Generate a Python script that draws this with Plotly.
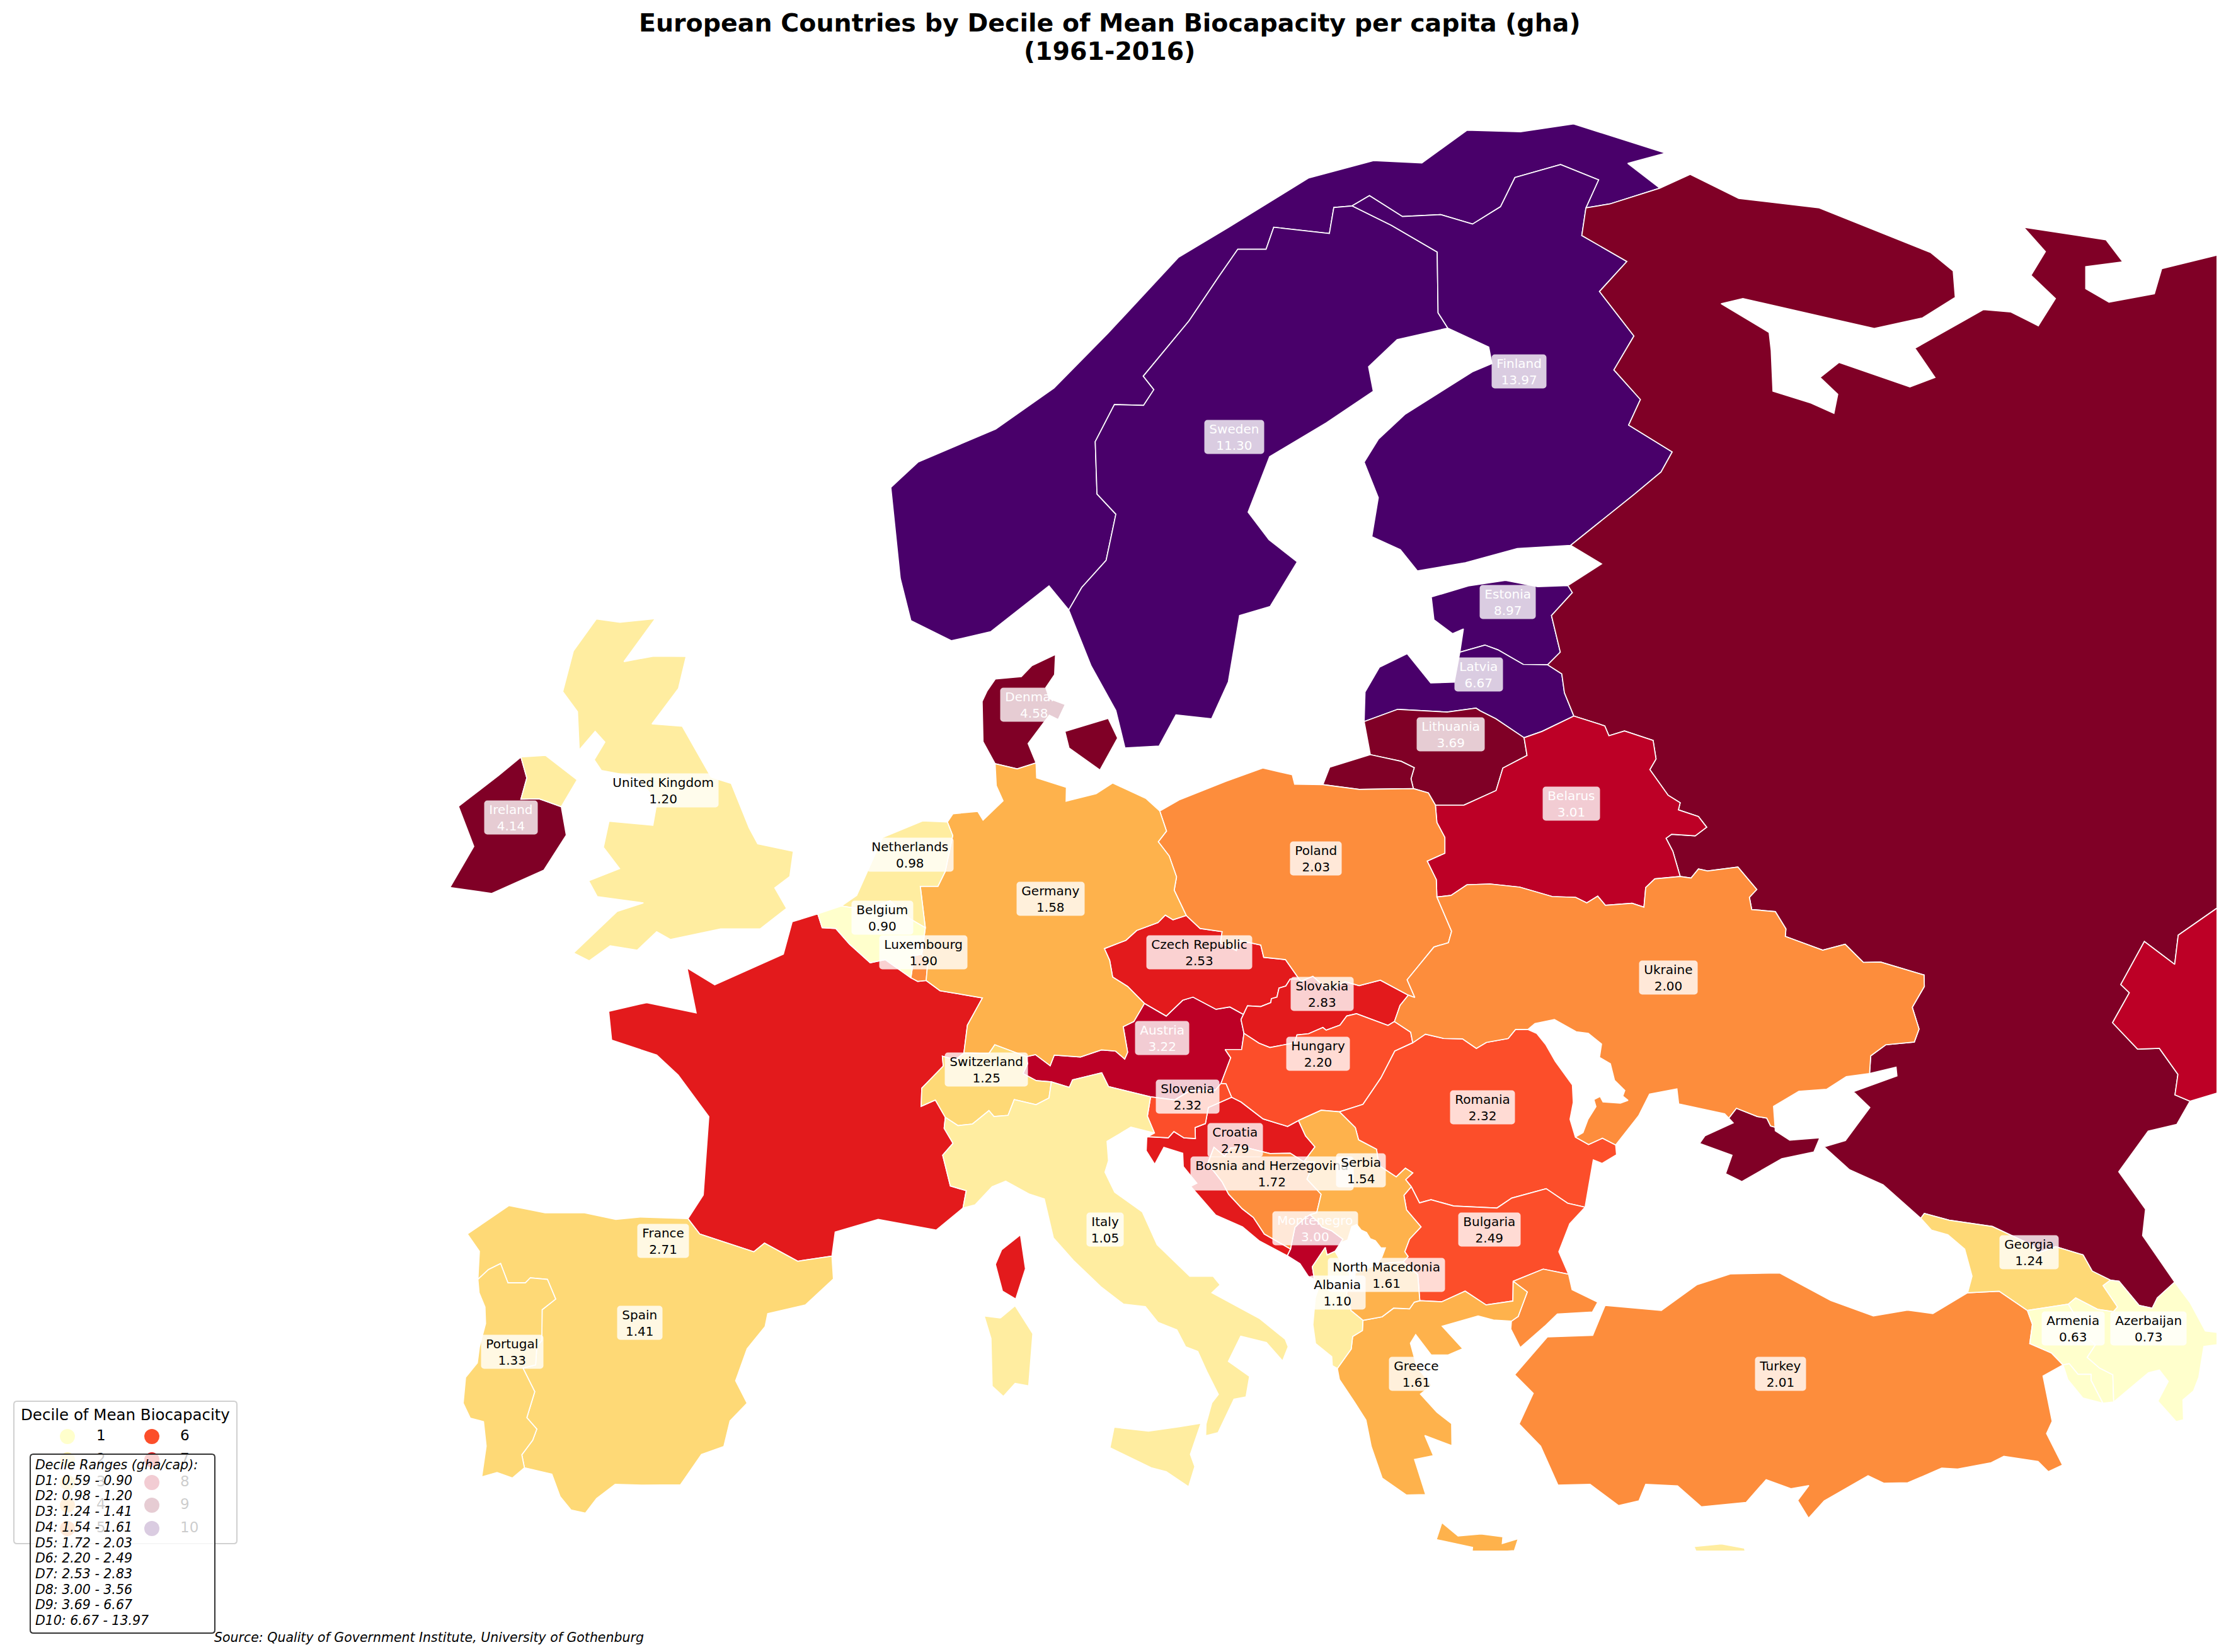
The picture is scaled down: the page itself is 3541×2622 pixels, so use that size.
import plotly.graph_objects as go

# Country outlines as (lon, lat)
norway = [(28.17,71.19),(31.29,70.45),(30.01,70.19),(31.10,69.56),(29.40,69.16),(28.59,69.06),(29.02,69.77),(27.73,70.16),(26.18,69.83),(25.69,69.09),(24.74,68.65),(23.66,68.89),(22.36,68.84),(21.24,69.37),(20.65,69.11),(20.03,69.07),(19.88,68.41),(17.99,68.57),(17.73,68.01),(16.77,68.01),(16.11,67.30),(15.11,66.19),(13.56,64.79),(13.92,64.45),(13.57,64.05),(12.58,64.07),(11.93,63.13),(11.99,61.80),(12.63,61.29),(12.30,60.12),(11.47,59.43),(11.03,58.86),(10.36,59.47),(8.38,58.31),(7.05,58.08),(5.67,58.59),(5.31,59.66),(4.99,61.97),(5.91,62.61),(8.55,63.45),(10.53,64.49),(12.36,65.88),(14.76,67.81),(16.44,68.56),(19.18,69.82),(21.38,70.26),(23.02,70.20),(24.55,71.03),(26.37,70.99)]
sweden = [(11.03,58.86),(11.47,59.43),(12.30,60.12),(12.63,61.29),(11.99,61.80),(11.93,63.13),(12.58,64.07),(13.57,64.05),(13.92,64.45),(13.56,64.79),(15.11,66.19),(16.11,67.30),(16.77,68.01),(17.73,68.01),(17.99,68.57),(19.88,68.41),(20.03,69.07),(20.65,69.11),(21.98,68.62),(23.54,67.94),(23.57,66.40),(23.90,66.01),(22.18,65.72),(21.21,65.03),(21.37,64.41),(19.78,63.61),(17.85,62.75),(17.12,61.34),(17.83,60.64),(18.79,60.08),(17.87,58.95),(16.83,58.72),(16.45,57.04),(15.88,56.10),(14.67,56.20),(14.10,55.41),(12.94,55.36),(12.63,56.31),(11.79,57.44)]
finland = [(28.59,69.06),(28.45,68.36),(29.98,67.70),(29.05,66.94),(30.22,65.81),(29.54,64.95),(30.44,64.20),(30.04,63.55),(31.52,62.87),(31.14,62.36),(30.21,61.78),(28.07,60.50),(26.26,60.42),(24.50,60.06),(22.87,59.85),(22.29,60.39),(21.32,60.72),(21.54,61.71),(21.06,62.61),(21.54,63.19),(22.44,63.82),(24.73,64.90),(25.40,65.11),(25.29,65.53),(23.90,66.01),(23.57,66.40),(23.54,67.94),(21.98,68.62),(20.65,69.11),(21.24,69.37),(22.36,68.84),(23.66,68.89),(24.74,68.65),(25.69,69.09),(26.18,69.83),(27.73,70.16),(29.02,69.77)]
jutland = [(10.91,56.46),(10.67,56.08),(10.37,56.19),(9.65,55.47),(9.92,54.98),(9.28,54.83),(8.53,54.96),(8.12,55.52),(8.09,56.54),(8.26,56.81),(8.54,57.11),(9.42,57.17),(9.78,57.45),(10.58,57.73),(10.55,57.22),(10.25,56.89),(10.37,56.61)]
zealand = [(12.69,55.61),(12.09,54.80),(11.04,55.36),(10.90,55.78),(12.37,56.11)]
germany = [(14.12,53.76),(14.35,53.25),(14.07,52.98),(14.44,52.62),(14.69,52.09),(14.61,51.75),(15.02,51.11),(14.57,51.00),(14.31,51.12),(14.06,50.93),(13.34,50.73),(12.97,50.48),(12.24,50.27),(12.42,49.97),(12.52,49.55),(13.03,49.31),(13.60,48.88),(13.24,48.42),(12.88,48.29),(13.03,47.64),(12.93,47.47),(12.62,47.67),(12.14,47.70),(11.43,47.52),(10.54,47.57),(10.40,47.30),(9.90,47.58),(9.59,47.53),(8.52,47.83),(8.32,47.61),(7.47,47.62),(7.59,48.33),(8.10,49.02),(6.66,49.20),(6.19,49.46),(6.24,49.90),(6.04,50.13),(6.16,50.80),(5.99,51.85),(6.59,51.85),(6.84,52.23),(7.09,53.14),(6.91,53.48),(7.10,53.69),(7.94,53.75),(8.12,53.53),(8.80,54.02),(8.57,54.40),(8.53,54.96),(9.28,54.83),(9.92,54.98),(9.94,54.60),(10.95,54.36),(10.94,54.01),(11.96,54.20),(12.52,54.47),(13.65,54.08)]
poland = [(23.48,53.91),(23.53,53.47),(23.80,53.09),(23.80,52.69),(23.20,52.49),(23.51,52.02),(23.53,51.58),(24.03,50.71),(23.92,50.42),(23.43,50.31),(22.52,49.48),(22.78,49.03),(22.56,49.09),(21.61,49.47),(20.89,49.33),(20.42,49.43),(19.83,49.22),(19.32,49.57),(18.91,49.44),(18.85,49.50),(18.39,49.99),(17.65,50.05),(17.55,50.36),(16.87,50.47),(16.72,50.22),(16.18,50.42),(16.24,50.70),(15.49,50.78),(15.02,51.11),(14.61,51.75),(14.69,52.09),(14.44,52.62),(14.07,52.98),(14.35,53.25),(14.12,53.76),(14.80,54.05),(16.36,54.51),(17.62,54.85),(18.62,54.68),(18.70,54.44),(19.66,54.43),(20.89,54.31),(22.73,54.33),(23.24,54.22)]
czech = [(15.02,51.11),(15.49,50.78),(16.24,50.70),(16.18,50.42),(16.72,50.22),(16.87,50.47),(17.55,50.36),(17.65,50.05),(18.39,49.99),(18.85,49.50),(18.55,49.50),(18.40,49.32),(18.17,49.27),(18.10,49.04),(17.91,49.00),(17.89,48.90),(17.55,48.80),(17.10,48.82),(16.96,48.60),(16.50,48.79),(16.03,48.73),(15.25,49.04),(14.90,48.96),(14.34,48.56),(13.60,48.88),(13.03,49.31),(12.52,49.55),(12.42,49.97),(12.24,50.27),(12.97,50.48),(13.34,50.73),(14.06,50.93),(14.31,51.12),(14.57,51.00)]
slovakia = [(18.85,49.50),(18.91,49.44),(19.32,49.57),(19.83,49.22),(20.42,49.43),(20.89,49.33),(21.61,49.47),(22.56,49.09),(22.28,48.83),(22.09,48.42),(21.87,48.32),(20.80,48.62),(20.47,48.56),(20.24,48.33),(19.77,48.20),(19.66,48.27),(19.17,48.11),(18.78,48.08),(18.70,47.88),(17.86,47.76),(17.49,47.87),(16.98,48.12),(16.88,48.47),(16.96,48.60),(17.10,48.82),(17.55,48.80),(17.89,48.90),(17.91,49.00),(18.10,49.04),(18.17,49.27),(18.40,49.32),(18.55,49.50)]
austria = [(16.98,48.12),(16.90,47.71),(16.34,47.71),(16.53,47.50),(16.20,46.85),(16.01,46.68),(15.14,46.66),(14.63,46.43),(13.81,46.51),(12.38,46.77),(12.15,47.12),(11.16,46.94),(11.05,46.75),(10.44,46.89),(9.93,46.92),(9.48,47.10),(9.63,47.35),(9.59,47.53),(9.90,47.58),(10.40,47.30),(10.54,47.57),(11.43,47.52),(12.14,47.70),(12.62,47.67),(12.93,47.47),(13.03,47.64),(12.88,48.29),(13.24,48.42),(13.60,48.88),(14.34,48.56),(14.90,48.96),(15.25,49.04),(16.03,48.73),(16.50,48.79),(16.96,48.60),(16.88,48.47)]
hungary = [(22.09,48.42),(22.64,48.15),(22.71,47.88),(22.10,47.67),(21.63,46.99),(21.02,46.32),(20.22,46.13),(19.60,46.17),(18.83,45.91),(18.46,45.76),(17.63,45.95),(16.88,46.38),(16.56,46.50),(16.37,46.84),(16.20,46.85),(16.53,47.50),(16.34,47.71),(16.90,47.71),(16.98,48.12),(17.49,47.87),(17.86,47.76),(18.70,47.88),(18.78,48.08),(19.17,48.11),(19.66,48.27),(19.77,48.20),(20.24,48.33),(20.47,48.56),(20.80,48.62),(21.87,48.32)]
slovenia = [(13.81,46.51),(14.63,46.43),(15.14,46.66),(16.01,46.68),(16.20,46.85),(16.37,46.84),(16.56,46.50),(15.77,46.24),(15.67,45.83),(15.32,45.73),(15.33,45.45),(14.94,45.47),(14.60,45.63),(14.41,45.47),(13.72,45.50),(13.94,45.59),(13.70,46.02)]
croatia = [(18.83,45.91),(19.07,45.52),(19.39,45.24),(19.01,44.86),(18.55,45.08),(17.86,45.07),(17.00,45.23),(16.53,45.21),(16.32,45.00),(15.96,45.23),(15.75,44.82),(16.24,44.35),(16.46,44.04),(16.92,43.67),(17.30,43.45),(17.67,43.03),(18.56,42.65),(18.45,42.48),(17.51,42.85),(16.93,43.21),(16.02,43.51),(15.17,44.24),(15.38,44.32),(14.92,44.74),(14.90,45.08),(14.26,45.23),(13.95,44.80),(13.66,45.14),(13.68,45.48),(13.72,45.50),(14.41,45.47),(14.60,45.63),(14.94,45.47),(15.33,45.45),(15.32,45.73),(15.67,45.83),(15.77,46.24),(16.56,46.50),(16.88,46.38),(17.63,45.95),(18.46,45.76)]
bosnia = [(19.01,44.86),(19.37,44.86),(19.12,44.42),(19.60,44.04),(19.45,43.57),(19.22,43.52),(19.03,43.43),(18.71,43.20),(18.56,42.65),(17.67,43.03),(17.30,43.45),(16.92,43.67),(16.46,44.04),(16.24,44.35),(15.75,44.82),(15.96,45.23),(16.32,45.00),(16.53,45.21),(17.00,45.23),(17.86,45.07),(18.55,45.08)]
serbia = [(18.83,45.91),(19.60,46.17),(20.22,46.13),(20.76,45.73),(20.87,45.42),(21.48,45.18),(21.56,44.77),(22.15,44.48),(22.46,44.70),(22.71,44.58),(22.47,44.41),(22.66,44.23),(22.41,44.01),(22.50,43.64),(22.99,43.21),(22.60,42.90),(22.44,42.58),(22.55,42.46),(22.38,42.32),(21.92,42.30),(21.58,42.25),(21.54,42.32),(21.66,42.44),(21.78,42.68),(21.63,42.68),(21.44,42.86),(21.27,42.91),(21.14,43.07),(20.96,43.13),(20.81,43.27),(20.64,43.22),(20.50,42.88),(20.26,42.81),(20.34,42.90),(19.96,43.11),(19.63,43.21),(19.48,43.35),(19.22,43.52),(19.45,43.57),(19.60,44.04),(19.12,44.42),(19.37,44.86),(19.01,44.86),(19.39,45.24),(19.07,45.52)]
montenegro = [(20.07,42.59),(19.80,42.50),(19.74,42.69),(19.30,42.20),(19.37,41.88),(19.16,41.96),(18.88,42.28),(18.45,42.48),(18.56,42.65),(18.71,43.20),(19.03,43.43),(19.22,43.52),(19.48,43.35),(19.63,43.21),(19.96,43.11),(20.34,42.90),(20.26,42.81)]
albania = [(21.02,40.84),(21.00,40.58),(20.67,40.43),(20.62,40.11),(20.15,39.62),(19.98,39.69),(19.96,39.92),(19.41,40.25),(19.32,40.73),(19.40,41.41),(19.54,41.72),(19.37,41.88),(19.30,42.20),(19.74,42.69),(19.80,42.50),(20.07,42.59),(20.28,42.32),(20.52,42.22),(20.59,41.86),(20.46,41.52),(20.61,41.09)]
macedonia = [(22.38,42.32),(22.88,42.00),(22.95,41.34),(22.76,41.30),(22.60,41.13),(22.06,41.15),(21.67,40.93),(21.02,40.84),(20.61,41.09),(20.46,41.52),(20.59,41.86),(20.72,41.85),(20.76,42.05),(21.35,42.21),(21.58,42.25),(21.92,42.30)]
greece = [(26.60,41.56),(26.29,40.94),(26.06,40.82),(25.45,40.85),(24.93,40.95),(23.71,40.69),(24.41,40.12),(23.90,39.96),(23.34,39.96),(22.81,40.48),(22.63,40.26),(22.85,39.66),(23.35,39.19),(22.97,38.97),(23.53,38.51),(24.03,38.22),(24.04,37.66),(23.12,37.92),(23.41,37.41),(22.77,37.31),(23.15,36.42),(22.49,36.41),(21.67,36.84),(21.30,37.64),(21.12,38.31),(20.73,38.77),(20.22,39.34),(20.15,39.62),(20.62,40.11),(20.67,40.43),(21.00,40.58),(21.02,40.84),(21.67,40.93),(22.06,41.15),(22.60,41.13),(22.76,41.30),(22.95,41.34),(23.69,41.31),(24.49,41.58),(25.20,41.23),(26.11,41.33),(26.12,41.83)]
crete = [(23.70,35.71),(24.25,35.37),(25.03,35.42),(25.77,35.35),(25.75,35.18),(26.29,35.30),(26.16,35.00),(24.72,34.92),(24.74,35.08),(23.51,35.28)]
bulgaria = [(22.66,44.23),(22.94,43.82),(23.33,43.90),(24.10,43.74),(25.57,43.69),(26.07,43.94),(27.24,44.18),(27.97,43.81),(28.56,43.71),(28.04,43.29),(27.67,42.58),(28.00,42.01),(27.14,42.14),(26.12,41.83),(26.11,41.33),(25.20,41.23),(24.49,41.58),(23.69,41.31),(22.95,41.34),(22.88,42.00),(22.38,42.32),(22.55,42.46),(22.44,42.58),(22.60,42.90),(22.99,43.21),(22.50,43.64),(22.41,44.01)]
romania = [(22.71,47.88),(23.14,48.10),(23.76,47.99),(24.40,47.98),(24.87,47.74),(25.21,47.89),(25.95,47.99),(26.20,48.22),(26.62,48.22),(26.92,48.12),(27.23,47.83),(27.55,47.41),(28.13,46.81),(28.16,46.37),(28.05,45.94),(28.23,45.49),(28.68,45.30),(29.15,45.46),(29.60,45.29),(29.63,45.04),(29.14,44.82),(28.84,44.91),(28.56,43.71),(27.97,43.81),(27.24,44.18),(26.07,43.94),(25.57,43.69),(24.10,43.74),(23.33,43.90),(22.94,43.82),(22.66,44.23),(22.47,44.41),(22.71,44.58),(22.46,44.70),(22.15,44.48),(21.56,44.77),(21.48,45.18),(20.87,45.42),(20.76,45.73),(20.22,46.13),(21.02,46.32),(21.63,46.99),(22.10,47.67)]
ukraine = [(31.79,52.10),(32.16,52.06),(32.41,52.29),(32.72,52.24),(33.75,52.34),(34.39,51.77),(34.14,51.57),(34.22,51.26),(35.02,51.21),(35.38,50.77),(35.36,50.58),(36.63,50.23),(37.39,50.38),(38.01,49.92),(38.59,49.93),(40.07,49.60),(40.08,49.31),(39.67,48.78),(39.90,48.23),(39.74,47.90),(38.77,47.83),(38.26,47.55),(38.22,47.10),(37.43,47.02),(36.76,46.70),(35.82,46.65),(34.96,46.27),(35.01,45.74),(34.86,45.77),(34.73,45.97),(34.41,46.01),(33.70,46.22),(33.44,45.97),(33.30,46.08),(31.74,46.33),(31.68,46.71),(30.75,46.58),(30.38,46.03),(29.60,45.29),(29.15,45.46),(28.68,45.30),(28.23,45.49),(28.49,45.60),(28.66,45.94),(28.93,46.26),(28.86,46.44),(29.07,46.52),(29.17,46.38),(29.76,46.35),(30.02,46.42),(29.84,46.53),(29.91,46.67),(29.56,46.93),(29.42,47.35),(29.05,47.51),(29.12,47.85),(28.67,48.12),(28.26,48.16),(27.52,48.47),(26.86,48.37),(26.62,48.22),(26.20,48.22),(25.95,47.99),(25.21,47.89),(24.87,47.74),(24.40,47.98),(23.76,47.99),(23.14,48.10),(22.71,47.88),(22.64,48.15),(22.09,48.42),(22.28,48.83),(22.56,49.09),(22.78,49.03),(22.52,49.48),(23.43,50.31),(23.92,50.42),(24.03,50.71),(23.53,51.58),(24.01,51.62),(24.55,51.89),(25.33,51.91),(26.34,51.83),(27.45,51.59),(28.24,51.57),(28.62,51.43),(28.99,51.60),(29.25,51.37),(30.16,51.42),(30.56,51.32),(30.62,51.82),(30.93,52.04)]
belarus = [(28.18,56.17),(29.23,55.92),(29.37,55.67),(29.90,55.79),(30.87,55.55),(30.97,55.08),(30.76,54.81),(31.38,54.16),(31.79,53.97),(31.73,53.79),(32.41,53.62),(32.69,53.35),(32.30,53.13),(31.50,53.17),(31.31,53.07),(31.54,52.74),(31.79,52.10),(30.93,52.04),(30.62,51.82),(30.56,51.32),(30.16,51.42),(29.25,51.37),(28.99,51.60),(28.62,51.43),(28.24,51.57),(27.45,51.59),(26.34,51.83),(25.33,51.91),(24.55,51.89),(24.01,51.62),(23.53,51.58),(23.51,52.02),(23.20,52.49),(23.80,52.69),(23.80,53.09),(23.53,53.47),(23.48,53.91),(24.45,53.91),(25.54,54.28),(25.77,54.85),(26.59,55.17),(26.49,55.62),(27.10,55.78)]
lithuania = [(26.49,55.62),(26.59,55.17),(25.77,54.85),(25.54,54.28),(24.45,53.91),(23.48,53.91),(23.24,54.22),(22.73,54.33),(22.65,54.58),(22.76,54.86),(22.32,55.02),(21.27,55.19),(21.06,56.03),(22.20,56.34),(23.88,56.27),(24.86,56.37),(25.00,56.30),(25.53,56.10)]
latvia = [(27.29,57.47),(27.77,57.24),(27.86,56.76),(28.18,56.17),(27.10,55.78),(26.49,55.62),(25.53,56.10),(25.00,56.30),(24.86,56.37),(23.88,56.27),(22.20,56.34),(21.06,56.03),(21.09,56.78),(21.58,57.41),(22.52,57.75),(23.32,57.01),(24.12,57.03),(24.31,57.79),(25.16,57.97),(25.60,57.85),(26.46,57.48)]
estonia = [(27.98,59.48),(26.95,59.45),(25.86,59.61),(24.60,59.47),(23.34,59.19),(23.43,58.61),(24.06,58.26),(24.43,58.38),(24.31,57.79),(25.16,57.97),(25.60,57.85),(26.46,57.48),(27.29,57.47),(27.72,57.79),(27.42,58.72),(28.13,59.30)]
russia = [(39.96,43.43),(38.68,44.28),(37.54,44.66),(36.68,45.24),(37.40,45.40),(38.23,46.24),(37.67,46.64),(39.15,47.04),(39.12,47.26),(38.22,47.10),(38.26,47.55),(38.77,47.83),(39.74,47.90),(39.90,48.23),(39.67,48.78),(40.08,49.31),(40.07,49.60),(38.59,49.93),(38.01,49.92),(37.39,50.38),(36.63,50.23),(35.36,50.58),(35.38,50.77),(35.02,51.21),(34.22,51.26),(34.14,51.57),(34.39,51.77),(33.75,52.34),(32.72,52.24),(32.41,52.29),(32.16,52.06),(31.79,52.10),(31.54,52.74),(31.31,53.07),(31.50,53.17),(32.30,53.13),(32.69,53.35),(32.41,53.62),(31.73,53.79),(31.79,53.97),(31.38,54.16),(30.76,54.81),(30.97,55.08),(30.87,55.55),(29.90,55.79),(29.37,55.67),(29.23,55.92),(28.18,56.17),(27.86,56.76),(27.77,57.24),(27.29,57.47),(27.72,57.79),(27.42,58.72),(28.13,59.30),(27.98,59.48),(29.12,60.03),(28.07,60.50),(30.21,61.78),(31.14,62.36),(31.52,62.87),(30.04,63.55),(30.44,64.20),(29.54,64.95),(30.22,65.81),(29.05,66.94),(29.98,67.70),(28.45,68.36),(28.59,69.06),(29.40,69.16),(31.10,69.56),(32.13,69.91),(33.78,69.30),(36.51,69.06),(40.29,67.93),(41.06,67.46),(41.13,66.79),(40.02,66.27),(38.38,66.00),(33.92,66.76),(33.18,66.63),(34.81,65.90),(34.88,65.44),(34.94,64.41),(36.23,64.11),(37.01,63.85),(37.14,64.33),(36.54,64.76),(37.18,65.14),(39.59,64.52),(40.44,64.76),(39.76,65.50),(42.09,66.48),(43.02,66.42),(43.95,66.07),(44.53,66.76),(43.70,67.35),(44.19,67.95),(43.45,68.57),(46.25,68.25),(46.82,67.69),(45.56,67.57),(45.56,67.01),(46.35,66.67),(47.89,66.88),(48.14,67.52),(50.23,67.90),(53.72,68.86),(56.00,68.86),(56.00,51.00),(50.77,51.69),(48.70,50.61),(48.58,49.87),(47.55,50.45),(46.75,49.36),(47.04,49.15),(46.47,48.39),(47.32,47.72),(48.06,47.74),(48.69,47.08),(48.59,46.56),(49.10,46.40),(48.65,45.81),(47.68,45.64),(46.68,44.61),(47.59,43.66),(47.49,42.99),(48.58,41.81),(47.99,41.41),(47.82,41.15),(47.37,41.22),(46.69,41.83),(46.40,41.86),(45.78,42.09),(45.47,42.50),(44.54,42.71),(43.93,42.55),(43.76,42.74),(42.39,43.22),(40.92,43.38),(40.08,43.55)]
kaliningrad = [(22.73,54.33),(20.89,54.31),(19.66,54.43),(19.89,54.87),(21.27,55.19),(22.32,55.02),(22.76,54.86),(22.65,54.58)]
crimea = [(33.44,45.97),(33.70,46.22),(34.41,46.01),(34.73,45.97),(34.86,45.77),(35.01,45.74),(35.02,45.65),(35.51,45.41),(36.53,45.47),(36.33,45.11),(35.24,44.94),(33.88,44.36),(33.33,44.56),(33.55,45.03),(32.45,45.33),(32.63,45.52),(33.59,45.85)]
kazakhstan = [(46.47,48.39),(47.04,49.15),(46.75,49.36),(47.55,50.45),(48.58,49.87),(48.70,50.61),(50.77,51.69),(56.00,51.00),(56.00,46.80),(53.04,46.85),(51.19,47.05),(50.03,46.61),(49.10,46.40),(48.59,46.56),(48.69,47.08),(48.06,47.74),(47.32,47.72)]
azerbaijan = [(46.40,41.86),(46.69,41.83),(47.37,41.22),(47.82,41.15),(47.99,41.41),(48.58,41.81),(49.11,41.28),(49.62,40.57),(50.08,40.53),(50.39,40.26),(49.57,40.18),(49.40,39.40),(49.22,39.05),(48.86,38.82),(48.88,38.32),(48.63,38.27),(48.01,38.79),(48.36,39.29),(48.06,39.58),(47.69,39.51),(46.51,38.77),(46.48,39.46),(46.03,39.63),(45.61,39.90),(45.89,40.22),(45.36,40.56),(45.56,40.81),(45.18,40.99),(44.97,41.25),(45.22,41.41),(45.96,41.12),(46.50,41.06),(46.64,41.18),(46.15,41.72)]
nakhchivan = [(45.00,39.74),(45.30,39.47),(45.74,39.47),(45.74,39.32),(46.14,38.74),(45.46,38.87),(44.95,39.34),(44.79,39.71)]
armenia = [(43.58,41.09),(44.97,41.25),(45.18,40.99),(45.56,40.81),(45.36,40.56),(45.89,40.22),(45.61,39.90),(46.03,39.63),(46.48,39.46),(46.51,38.77),(46.14,38.74),(45.74,39.32),(45.74,39.47),(45.30,39.47),(45.00,39.74),(44.79,39.71),(44.40,40.01),(43.66,40.25),(43.75,40.74)]
georgia = [(39.96,43.43),(40.08,43.55),(40.92,43.38),(42.39,43.22),(43.76,42.74),(43.93,42.55),(44.54,42.71),(45.47,42.50),(45.78,42.09),(46.40,41.86),(46.15,41.72),(46.64,41.18),(46.50,41.06),(45.96,41.12),(45.22,41.41),(44.97,41.25),(43.58,41.09),(42.62,41.58),(41.55,41.54),(41.70,41.96),(41.45,42.65),(40.88,43.01),(40.32,43.13)]
turkey = [(36.91,41.34),(38.35,40.95),(39.51,41.10),(40.37,41.01),(41.55,41.54),(42.62,41.58),(43.58,41.09),(43.75,40.74),(43.66,40.25),(44.40,40.01),(44.79,39.71),(44.11,39.43),(44.42,38.28),(44.23,37.97),(44.77,37.17),(44.29,37.00),(43.94,37.26),(42.78,37.39),(42.35,37.23),(41.21,37.07),(40.67,37.09),(39.52,36.72),(38.70,36.71),(38.17,36.90),(36.68,36.26),(36.42,36.04),(36.15,35.82),(35.78,36.27),(36.16,36.65),(35.55,36.57),(34.71,36.80),(34.03,36.22),(32.51,36.11),(31.70,36.64),(30.62,36.68),(30.39,36.26),(29.70,36.14),(28.73,36.68),(27.64,36.66),(27.05,37.65),(26.32,38.21),(26.80,38.99),(26.17,39.46),(27.28,40.42),(28.82,40.46),(29.24,41.22),(31.15,41.09),(32.35,41.74),(33.51,42.02),(35.17,42.04)]
thrace = [(26.12,41.83),(27.14,42.14),(28.00,42.01),(28.12,41.62),(28.99,41.30),(28.81,41.05),(27.62,41.00),(27.19,40.69),(26.36,40.15),(26.04,40.62),(26.06,40.82),(26.29,40.94),(26.60,41.56)]
france = [(3.59,50.38),(4.29,49.91),(4.80,49.99),(5.67,49.53),(5.90,49.44),(6.19,49.46),(6.66,49.20),(8.10,49.02),(7.59,48.33),(7.47,47.62),(7.19,47.45),(6.74,47.54),(6.77,47.29),(6.04,46.73),(6.02,46.27),(6.50,46.43),(6.84,45.99),(6.80,45.71),(7.10,45.33),(6.75,45.03),(7.01,44.25),(7.55,44.13),(7.44,43.69),(6.53,43.13),(4.56,43.40),(3.10,43.08),(2.99,42.47),(1.83,42.34),(0.70,42.80),(0.34,42.58),(-1.50,43.03),(-1.90,43.42),(-1.38,44.02),(-1.19,46.01),(-2.23,47.06),(-2.96,47.57),(-4.49,47.95),(-4.59,48.68),(-3.30,48.90),(-1.62,48.64),(-1.93,49.78),(-0.99,49.35),(1.34,50.13),(1.64,50.95),(2.51,51.15),(2.66,50.80),(3.12,50.78)]
corsica = [(9.56,42.15),(9.23,41.38),(8.78,41.58),(8.54,42.26),(8.75,42.63),(9.39,43.01)]
spain = [(-7.45,37.10),(-7.54,37.43),(-7.17,37.80),(-7.03,38.08),(-7.37,38.37),(-7.10,39.03),(-7.50,39.63),(-7.07,39.71),(-7.03,40.18),(-6.86,40.33),(-6.85,41.11),(-6.39,41.38),(-6.67,41.88),(-7.25,41.92),(-7.42,41.79),(-8.01,41.79),(-8.26,42.28),(-8.67,42.13),(-9.03,41.88),(-8.98,42.59),(-9.39,43.03),(-7.98,43.75),(-6.75,43.57),(-5.41,43.57),(-4.35,43.40),(-3.52,43.46),(-1.90,43.42),(-1.50,43.03),(0.34,42.58),(0.70,42.80),(1.83,42.34),(2.99,42.47),(3.04,41.89),(2.09,41.23),(0.81,41.01),(0.72,40.68),(0.11,40.12),(-0.28,39.31),(0.11,38.74),(-0.47,38.29),(-0.68,37.64),(-1.44,37.44),(-2.15,36.67),(-3.42,36.66),(-4.37,36.68),(-5.00,36.32),(-5.38,35.95),(-5.87,36.03),(-6.24,36.37),(-6.52,36.94)]
portugal = [(-9.03,41.88),(-8.67,42.13),(-8.26,42.28),(-8.01,41.79),(-7.42,41.79),(-7.25,41.92),(-6.67,41.88),(-6.39,41.38),(-6.85,41.11),(-6.86,40.33),(-7.03,40.18),(-7.07,39.71),(-7.50,39.63),(-7.10,39.03),(-7.37,38.37),(-7.03,38.08),(-7.17,37.80),(-7.54,37.43),(-7.45,37.10),(-7.86,36.84),(-8.38,36.98),(-8.90,36.87),(-8.75,37.65),(-8.84,38.27),(-9.29,38.36),(-9.53,38.74),(-9.45,39.39),(-9.05,39.76),(-8.98,40.16),(-8.77,40.76),(-8.79,41.18),(-8.99,41.54)]
italy = [(10.44,46.89),(11.05,46.75),(11.16,46.94),(12.15,47.12),(12.38,46.77),(13.81,46.51),(13.70,46.02),(13.94,45.59),(13.14,45.74),(12.33,45.38),(12.38,44.89),(12.26,44.60),(12.59,44.09),(13.53,43.59),(14.03,42.76),(15.14,41.96),(15.93,41.96),(16.17,41.74),(15.89,41.54),(16.79,41.18),(17.52,40.88),(18.38,40.36),(18.48,40.17),(18.29,39.81),(17.74,40.28),(16.87,40.44),(16.45,39.80),(17.17,39.42),(17.05,38.90),(16.64,38.84),(16.10,37.99),(15.68,37.91),(15.69,38.21),(15.89,38.75),(16.11,38.96),(15.72,39.54),(15.41,40.05),(15.00,40.17),(14.70,40.60),(14.06,40.79),(13.63,41.19),(12.89,41.25),(12.11,41.70),(11.19,42.36),(10.51,42.93),(10.20,43.92),(9.70,44.04),(8.89,44.37),(8.43,44.23),(7.85,43.77),(7.44,43.69),(7.55,44.13),(7.01,44.25),(6.75,45.03),(7.10,45.33),(6.80,45.71),(6.84,45.99),(7.27,45.78),(7.76,45.82),(8.32,46.16),(8.49,46.01),(8.97,46.04),(9.18,46.44),(9.92,46.31),(10.36,46.48)]
sicily = [(14.76,38.14),(15.52,38.23),(15.16,37.44),(15.31,37.13),(15.10,36.62),(14.34,37.00),(13.83,37.10),(12.43,37.61),(12.57,38.13),(13.74,38.03)]
sardinia = [(8.71,40.90),(9.21,41.21),(9.81,40.50),(9.67,39.18),(9.21,39.24),(8.81,38.91),(8.43,39.17),(8.39,40.38),(8.16,40.95)]
switzerland = [(9.59,47.53),(9.63,47.35),(9.48,47.10),(9.93,46.92),(10.44,46.89),(10.36,46.48),(9.92,46.31),(9.18,46.44),(8.97,46.04),(8.49,46.01),(8.32,46.16),(7.76,45.82),(7.27,45.78),(6.84,45.99),(6.50,46.43),(6.02,46.27),(6.04,46.73),(6.77,47.29),(6.74,47.54),(7.19,47.45),(7.47,47.62),(8.32,47.61),(8.52,47.83)]
belgium = [(3.31,51.35),(4.05,51.27),(4.97,51.48),(5.61,51.04),(6.16,50.80),(6.04,50.13),(5.78,50.09),(5.67,49.53),(4.80,49.99),(4.29,49.91),(3.59,50.38),(3.12,50.78),(2.66,50.80),(2.51,51.15)]
luxembourg = [(6.04,50.13),(6.24,49.90),(6.19,49.46),(5.90,49.44),(5.67,49.53),(5.78,50.09)]
netherlands = [(6.91,53.48),(7.09,53.14),(6.84,52.23),(6.59,51.85),(5.99,51.85),(6.16,50.80),(5.61,51.04),(4.97,51.48),(4.05,51.27),(3.31,51.35),(3.83,51.62),(4.71,53.09),(6.07,53.51)]
great_britain = [(-3.01,58.64),(-4.07,57.55),(-3.06,57.69),(-1.96,57.68),(-2.22,56.87),(-3.12,55.97),(-2.09,55.91),(-1.11,54.62),(-0.43,54.46),(0.18,53.33),(0.47,52.93),(1.68,52.74),(1.56,52.10),(1.05,51.81),(1.45,51.29),(0.55,50.77),(-0.79,50.77),(-2.49,50.50),(-2.96,50.70),(-3.62,50.23),(-4.54,50.34),(-5.25,49.96),(-5.78,50.16),(-4.31,51.21),(-3.41,51.43),(-4.98,51.59),(-5.27,51.99),(-4.22,52.30),(-4.77,52.84),(-4.58,53.50),(-3.09,53.40),(-2.95,53.99),(-3.63,54.62),(-4.84,54.79),(-5.08,55.06),(-4.72,55.51),(-5.05,55.78),(-5.59,55.31),(-5.65,56.28),(-6.15,56.79),(-5.79,57.82),(-5.01,58.63),(-4.21,58.55)]
northern_ireland = [(-5.66,54.55),(-6.20,53.87),(-6.95,54.07),(-7.57,54.06),(-7.37,54.60),(-7.57,55.13),(-6.73,55.17)]
ireland = [(-6.20,53.87),(-6.03,53.15),(-6.79,52.26),(-8.56,51.67),(-9.98,51.82),(-9.17,52.86),(-9.69,53.88),(-8.33,54.66),(-7.57,55.13),(-7.37,54.60),(-7.57,54.06),(-6.95,54.07)]
cyprus = [(33.97,35.06),(34.00,34.98),(32.98,34.57),(32.49,34.70),(32.26,35.10),(32.73,35.14),(33.19,35.17)]

# Labelled countries: name, mean biocapacity, decile, label position
names = ["Finland", "Sweden", "Estonia", "Latvia", "Lithuania", "Denmark", "Ireland", "United Kingdom",
         "Netherlands", "Belgium", "Luxembourg", "France", "Germany", "Poland", "Czech Republic", "Slovakia",
         "Austria", "Hungary", "Slovenia", "Croatia", "Bosnia and Herzegovina", "Serbia", "Romania", "Bulgaria",
         "Montenegro", "North Macedonia", "Albania", "Greece", "Italy", "Switzerland", "Ukraine", "Belarus",
         "Spain", "Portugal", "Turkey", "Georgia", "Armenia", "Azerbaijan"]
values = [13.97, 11.30, 8.97, 6.67, 3.69, 4.58, 4.14, 1.20, 0.98, 0.90, 1.90, 2.71, 1.58, 2.03, 2.53, 2.83,
          3.22, 2.20, 2.32, 2.79, 1.72, 1.54, 2.32, 2.49, 3.00, 1.61, 1.10, 1.61, 1.05, 1.25, 2.00, 3.01,
          1.41, 1.33, 2.01, 1.24, 0.63, 0.73]
deciles = [10, 10, 10, 10, 9, 9, 9, 2, 2, 1, 5, 7, 4, 5, 7, 7, 8, 6, 6, 7, 5, 4, 6, 6, 8, 4, 2, 4, 2, 3, 5, 8,
           3, 3, 5, 3, 1, 1]
label_lon = [26.32, 16.66, 25.94, 24.96, 24.00, 9.86, -7.90, -2.74, 5.65, 4.70, 6.10, -2.75, 10.42, 19.43, 15.47,
             19.64, 14.20, 19.49, 15.06, 16.69, 17.93, 20.94, 25.07, 25.31, 19.40, 21.82, 20.15, 22.83, 12.26,
             8.23, 31.38, 28.10, -3.53, -7.87, 35.20, 43.63, 45.13, 47.70]
label_lat = [64.91, 63.25, 59.06, 57.22, 55.70, 56.46, 53.59, 54.29, 52.66, 51.05, 50.17, 42.86, 51.53, 52.55, 50.17,
             49.12, 48.01, 47.61, 46.51, 45.41, 44.57, 44.64, 46.25, 43.14, 43.18, 42.00, 41.55, 39.48, 43.14,
             47.20, 49.54, 53.94, 40.77, 40.05, 39.48, 42.56, 40.63, 40.63]

decile_colors = ["#ffffcc", "#ffeda0", "#fed976", "#feb24c", "#fd8d3c", "#fc4e2a", "#e31a1c", "#bd0026", "#800026", "#49006a"]
decile_ranges = ["0.59 - 0.90", "0.98 - 1.20", "1.24 - 1.41", "1.54 - 1.61", "1.72 - 2.03",
                 "2.20 - 2.49", "2.53 - 2.83", "3.00 - 3.56", "3.69 - 6.67", "6.67 - 13.97"]

# name, parts, decile of each filled country
countries = [
    ("Norway", [norway], 10), ("Sweden", [sweden], 10), ("Finland", [finland], 10), ("Estonia", [estonia], 10),
    ("Latvia", [latvia], 10), ("Lithuania", [lithuania], 9), ("Denmark", [jutland, zealand], 9),
    ("Ireland", [ireland], 9), ("Russia", [russia, kaliningrad, crimea], 9), ("Belarus", [belarus], 8),
    ("Kazakhstan", [kazakhstan], 8), ("Austria", [austria], 8), ("Montenegro", [montenegro], 8),
    ("France", [france, corsica], 7), ("Czech Republic", [czech], 7), ("Slovakia", [slovakia], 7),
    ("Croatia", [croatia], 7), ("Hungary", [hungary], 6), ("Slovenia", [slovenia], 6), ("Romania", [romania], 6),
    ("Bulgaria", [bulgaria], 6), ("Poland", [poland], 5), ("Ukraine", [ukraine], 5), ("Turkey", [turkey, thrace], 5),
    ("Bosnia and Herzegovina", [bosnia], 5), ("Luxembourg", [luxembourg], 5), ("Germany", [germany], 4),
    ("Serbia", [serbia], 4), ("Greece", [greece, crete], 4), ("North Macedonia", [macedonia], 4),
    ("Spain", [spain], 3), ("Portugal", [portugal], 3), ("Switzerland", [switzerland], 3), ("Georgia", [georgia], 3),
    ("United Kingdom", [great_britain, northern_ireland], 2), ("Italy", [italy, sicily, sardinia], 2),
    ("Netherlands", [netherlands], 2), ("Albania", [albania], 2), ("Cyprus", [cyprus], 2),
    ("Belgium", [belgium], 1), ("Armenia", [armenia], 1), ("Azerbaijan", [azerbaijan, nakhchivan], 1),
]

W, H = 3541, 2622
FONT = "DejaVu Sans"

fig = go.Figure()

for name, parts, decile in countries:
    xs, ys = [], []
    for part in parts:
        xs += [p[0] for p in part] + [part[0][0], None]
        ys += [p[1] for p in part] + [part[0][1], None]
    fig.add_trace(go.Scatter(x=xs, y=ys, mode="lines", fill="toself", name=name,
                             fillcolor=decile_colors[decile - 1],
                             line=dict(color="white", width=1.7),
                             hoverinfo="name", showlegend=False))

# Country labels
for name, val, dec, lon, lat in zip(names, values, deciles, label_lon, label_lat):
    fig.add_annotation(x=lon, y=lat, xref="x", yref="y", showarrow=False,
                       text=f"&nbsp;{name}&nbsp;<br>{val:.2f}",
                       font=dict(family=FONT, size=20, color="white" if dec >= 8 else "black"),
                       bgcolor="rgba(255,255,255,0.8)", borderpad=1, height=51)


def rounded_box(x0, y0, x1, y1, r):
    return (f"M{x0 + r},{y0} L{x1 - r},{y0} Q{x1},{y0} {x1},{y0 + r} L{x1},{y1 - r} Q{x1},{y1} {x1 - r},{y1} "
            f"L{x0 + r},{y1} Q{x0},{y1} {x0},{y1 - r} L{x0},{y0 + r} Q{x0},{y0} {x0 + r},{y0} Z")


# Legend, drawn in page pixels on a second full-page axis pair
rows = [2280, 2317, 2353, 2389, 2426]
marker_x = [107] * 5 + [241] * 5
text_x = [153] * 5 + [286] * 5
fig.add_trace(go.Scatter(x=marker_x, y=rows * 2, xaxis="x2", yaxis="y2", mode="markers",
                         marker=dict(size=24, color=decile_colors, line=dict(width=0)),
                         hoverinfo="skip", showlegend=False))
fig.add_trace(go.Scatter(x=text_x, y=rows * 2, xaxis="x2", yaxis="y2", mode="text",
                         text=[str(i) for i in range(1, 11)], textposition="middle right",
                         textfont=dict(family=FONT, size=23, color="black"),
                         hoverinfo="skip", showlegend=False))
fig.add_shape(type="path", path=rounded_box(22, 2224, 376, 2450, 5), xref="x2", yref="y2",
              line=dict(color="#d0d0d0", width=2), fillcolor="rgba(255,255,255,0)")
fig.add_shape(type="path", path=rounded_box(48, 2308, 341, 2592, 5), xref="x2", yref="y2",
              line=dict(color="#333333", width=2), fillcolor="rgba(255,255,255,0.8)")

fig.add_annotation(x=199, y=2245, xref="x2", yref="y2", showarrow=False, text="Decile of Mean Biocapacity",
                   font=dict(family=FONT, size=24.5, color="black"))
range_lines = ["Decile Ranges (gha/cap):"] + [f"D{i + 1}: {r}" for i, r in enumerate(decile_ranges)]
for i, line in enumerate(range_lines):
    fig.add_annotation(x=55, y=2325 + 24.7 * i, xref="x2", yref="y2", showarrow=False, xanchor="left",
                       text=f"<i>{line}</i>", font=dict(family=FONT, size=20.5, color="black"), borderpad=0)
fig.add_annotation(x=339, y=2599, xref="x2", yref="y2", showarrow=False, xanchor="left",
                   text="<i>Source: Quality of Government Institute, University of Gothenburg</i>",
                   font=dict(family=FONT, size=20.5, color="black"), borderpad=0)

# Title, one line at a time to keep the tight line spacing
title_lines = ["European Countries by Decile of Mean Biocapacity per capita (gha)", "(1961-2016)"]
for line, y in zip(title_lines, [36, 81]):
    fig.add_annotation(x=1761, y=y, xref="x2", yref="y2", showarrow=False, text=f"<b>{line}</b>",
                       font=dict(family=FONT, size=39.5, color="black"), borderpad=0)

fig.update_layout(
    width=W, height=H, margin=dict(l=0, r=0, t=0, b=0),
    paper_bgcolor="white", plot_bgcolor="rgba(0,0,0,0)",
    xaxis=dict(range=[-25, 50], domain=[12 / W, 3518 / W], visible=False),
    yaxis=dict(range=[35, 72], domain=[1 - 2461 / H, 1 - 146 / H], visible=False),
    xaxis2=dict(range=[0, W], domain=[0, 1], visible=False, anchor="y2"),
    yaxis2=dict(range=[H, 0], domain=[0, 1], visible=False, anchor="x2"),
)

fig.write_html("out.html", config=dict(displayModeBar=False), post_script="""
document.body.style.margin = '0';
document.querySelectorAll('.annotation rect.bg').forEach(function (r) { r.setAttribute('rx', 5); });
""")
